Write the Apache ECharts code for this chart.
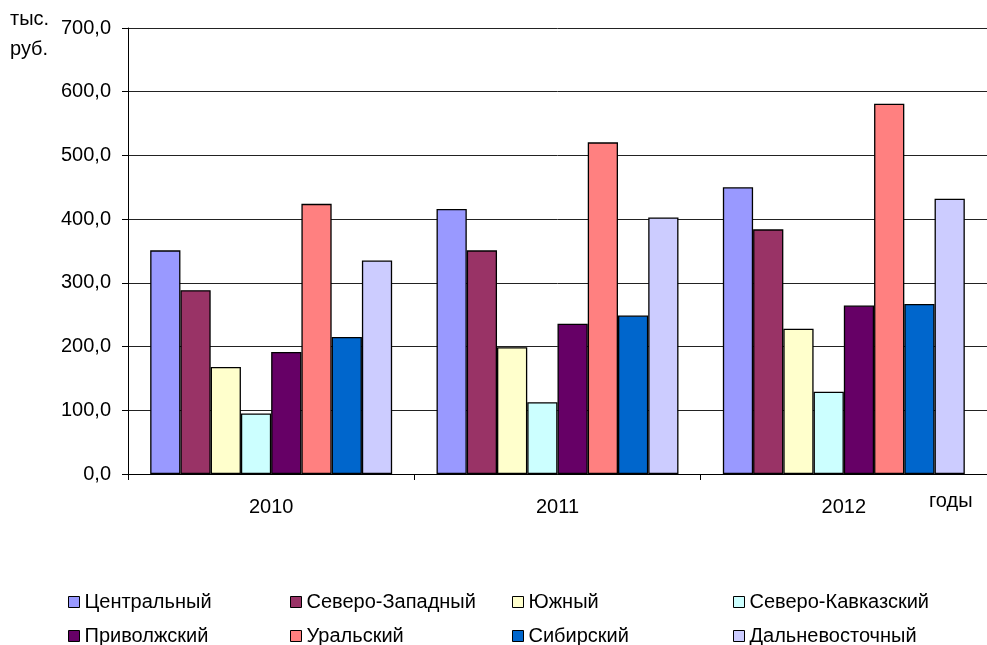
<!DOCTYPE html>
<html><head><meta charset="utf-8">
<script src="https://cdn.jsdelivr.net/npm/echarts@6/dist/echarts.min.js"></script>
<style>html,body{margin:0;padding:0;background:#fff}#c{width:987px;height:645px}</style>
</head><body><div id="c"></div>
<script>
const categories = ['2010', '2011', '2012'];
const seriesNames = ['Центральный','Северо-Западный','Южный','Северо-Кавказский','Приволжский','Уральский','Сибирский','Дальневосточный'];
const centralValues = [351, 416, 450];
const northWestValues = [288.5, 351, 384];
const southValues = [168, 199, 228];
const northCaucasusValues = [95, 112.6, 129];
const volgaValues = [191.6, 236, 264.5];
const uralValues = [424, 520.5, 581];
const siberianValues = [215, 248.8, 267];
const farEastValues = [335, 402.7, 432];
const yTicks = [0, 100, 200, 300, 400, 500, 600, 700];
const colors = ['#9999FF','#993366','#FFFFCC','#CCFFFF','#660066','#FF8080','#0066CC','#CCCCFF'];
const allValues = [centralValues, northWestValues, southValues, northCaucasusValues, volgaValues, uralValues, siberianValues, farEastValues];

const FONT = 'Liberation Sans, Arial, sans-serif';
const FS = 20;
const legendPos = [[68,592],[290,592],[512,592],[733,592],[68,626],[290,626],[512,626],[733,626]];

const chart = echarts.init(document.getElementById('c'));
chart.setOption({
  animation: false,
  backgroundColor: '#fff',
  textStyle: {fontFamily: FONT},
  grid: {left: 128, top: 28, bottom: 171, right: 0, containLabel: false},
  xAxis: {
    type: 'category', data: categories,
    axisLine: {lineStyle: {color: '#000', width: 1}},
    axisTick: {show: true, length: 6, lineStyle: {color: '#000'}},
    axisLabel: {color: '#000', fontSize: FS, fontFamily: FONT, margin: 23},
    splitLine: {show: false}
  },
  yAxis: {
    type: 'value', min: yTicks[0], max: yTicks[yTicks.length-1], interval: 100,
    axisLine: {show: true, lineStyle: {color: '#000', width: 1}},
    axisTick: {show: true, length: 6, lineStyle: {color: '#000'}},
    axisLabel: {color: '#000', fontSize: FS, fontFamily: FONT, margin: 17,
      formatter: v => v.toFixed(1).replace('.', ',')},
    splitLine: {show: true, lineStyle: {color: '#222', width: 1}}
  },
  legend: seriesNames.map((n, i) => ({
    data: [n], left: legendPos[i][0], top: legendPos[i][1], padding: 0,
    itemWidth: 11, itemHeight: 11, itemGap: 0, icon: 'rect',
    textStyle: {fontSize: FS, color: '#000', fontFamily: FONT},
    itemStyle: {borderColor: '#000', borderWidth: 1}
  })),
  series: seriesNames.map((n, i) => ({
    name: n, type: 'bar', data: allValues[i],
    barGap: '0%', barCategoryGap: '15.5%',
    itemStyle: {color: colors[i], borderColor: '#000', borderWidth: 1.3}
  })),
  graphic: [
    {type: 'text', left: 10, top: 9, style: {text: 'тыс.', fontSize: FS, fill: '#000', fontFamily: FONT}},
    {type: 'text', left: 10, top: 39, style: {text: 'руб.', fontSize: FS, fill: '#000', fontFamily: FONT}},
    {type: 'text', left: 929, top: 491, style: {text: 'годы', fontSize: FS, fill: '#000', fontFamily: FONT}}
  ]
});
</script></body></html>
